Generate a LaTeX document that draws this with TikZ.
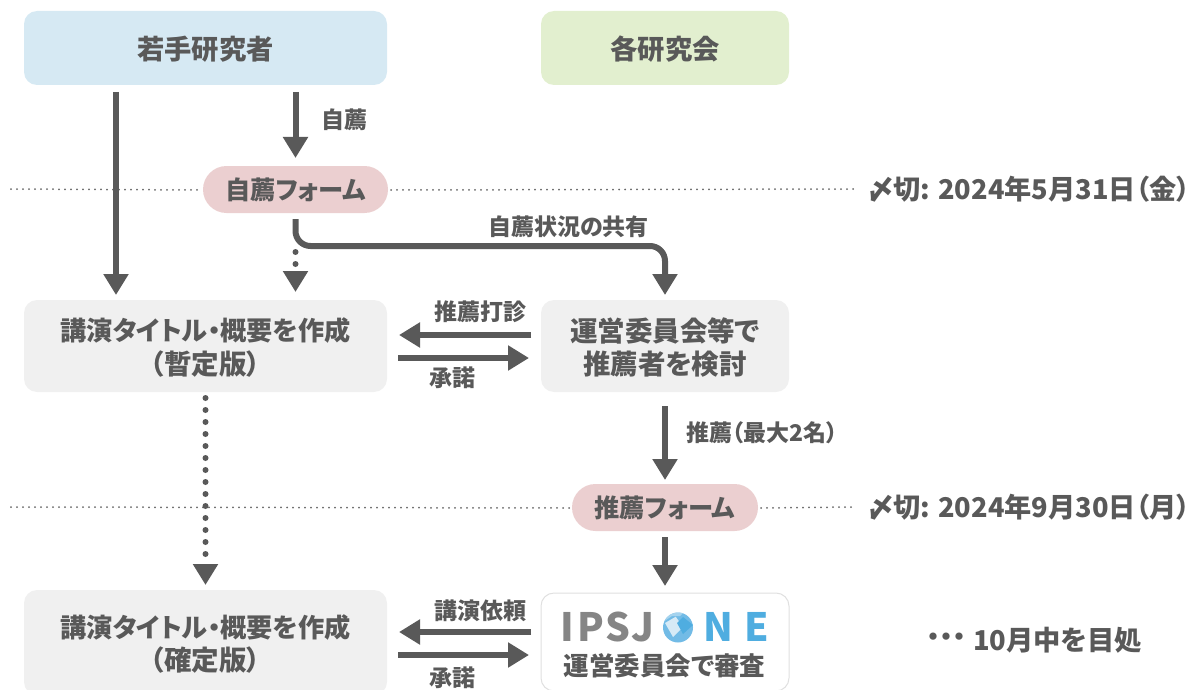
\documentclass[tikz,border=0pt]{standalone}
\usepackage{fontspec}
\usetikzlibrary{arrows.meta,shapes.misc}
\newfontfamily\jp[RawFeature=+palt]{Noto Sans CJK JP}
\newfontfamily\jpn{Noto Sans CJK JP}
\newcommand{\fsz}[1]{\fontsize{#1}{#1}\selectfont}
\definecolor{ink}{HTML}{595959}
\definecolor{dotc}{HTML}{666666}
\definecolor{blueb}{HTML}{D6E9F3}
\definecolor{greenb}{HTML}{E2EFCF}
\definecolor{pinkb}{HTML}{EBCFD0}
\definecolor{grayb}{HTML}{F0F0F0}
\definecolor{lgray}{HTML}{858585}
\definecolor{lblue}{HTML}{4FADE0}
\definecolor{mblue}{HTML}{72BBE6}
\definecolor{pblue}{HTML}{A5D3EE}
\definecolor{wblue}{HTML}{D6EAF6}
\tikzset{
  x=1pt,y=-1pt,
  every node/.style={inner sep=0pt,outer sep=0pt,text=ink,align=center},
  lab/.style={font=\jp\bfseries\fsz{23}},
  mid/.style={font=\jp\bfseries\fsz{27.5},text depth=0pt},
  big/.style={font=\jp\bfseries\fsz{27.3}},
  box/.style={rectangle,rounded corners=13pt,mid},
  pill/.style={rounded rectangle,fill=pinkb,font=\jp\bfseries\fsz{25.3},minimum height=47pt},
  arr/.style={draw=ink,line width=6pt,-{Triangle[width=24pt,length=21pt]}},
  dotarr/.style={arr,line cap=round,dash pattern=on 0pt off 12pt},
  hair/.style={draw=dotc,line width=2pt,line cap=round,dash pattern=on 0pt off 6pt},
  logo/.style={font=\jpn\bfseries\fsz{39}}
}
\newcommand{\ttl}{{\fsz{26.2}講演タイトル・概要を作成}}
\begin{document}
\begin{tikzpicture}
\useasboundingbox (0,0) rectangle (1196,690);
% boxes
\node[box,big,fill=blueb,minimum width=363pt,minimum height=74pt] (young) at (205.5,48) {若手研究者};
\node[box,big,fill=greenb,minimum width=248pt,minimum height=74pt] (soc) at (665,48) {各研究会};
\node[pill,minimum width=185pt] (selfform) at (295.5,189.5) {自薦フォーム};
\node[box,fill=grayb,minimum width=363pt,minimum height=92pt] (draft) at (205.5,346) {\ttl\\[6pt]（暫定版）};
\node[box,fill=grayb,minimum width=248pt,minimum height=92pt] (exam) at (665,346) {運営委員会等で\\[6pt]推薦者を検討};
\node[pill,minimum width=186pt] (recform) at (665,507.5) {推薦フォーム};
\node[box,fill=grayb,minimum width=363pt,minimum height=105pt] (final) at (205.5,642.5) {\ttl\\[6pt]（確定版）};
\node[box,fill=white,draw=black!12,line width=1pt,minimum width=248pt,minimum height=98pt] (ipsj) at (665,642) {};
% dotted date lines
\coordinate (d1l) at (11,189); \coordinate (d1r) at (853,189);
\coordinate (d2l) at (11,507); \coordinate (d2r) at (853,507);
\draw[hair] (d1l) -- ([xshift=-3pt,yshift=-0.5pt]selfform.west);
\draw[hair] ([xshift=3pt,yshift=-0.5pt]selfform.east) -- (d1r);
\draw[hair] (d2l) -- ([xshift=-3pt,yshift=-0.5pt]recform.west);
\draw[hair] ([xshift=3pt,yshift=-0.5pt]recform.east) -- (d2r);
% arrows
\draw[arr] ([xshift=-89.5pt,yshift=-7pt]young.south) -- ([xshift=-89.5pt,yshift=5pt]draft.north);
\draw[arr] ([xshift=90pt,yshift=-7pt]young.south) -- ([xshift=0pt,yshift=8pt]selfform.north);
\node[lab] (lself) at (344,120) {自薦};
\draw[arr,rounded corners=15pt] ([yshift=-6pt]selfform.south) |- (665,246) -- ([yshift=5pt]exam.north);
\node[lab] (lshare) at (568.5,227) {自薦状況の共有};
\draw[dotarr] ([yshift=-39pt]selfform.south) -- ([yshift=-79pt]selfform.south);
\draw[dotarr] ([yshift=-6pt]draft.south) -- ([yshift=5pt]final.north);
\draw[arr] ([xshift=-10pt,yshift=11pt]exam.west) -- ([xshift=12pt,yshift=11pt]draft.east);
\draw[arr] ([xshift=11pt,yshift=-12pt]draft.east) -- ([xshift=-12pt,yshift=-12pt]exam.west);
\node[lab] (lcons) at (480,312) {推薦打診};
\node[lab] (lok) at (452,378) {承諾};
\draw[arr] ([yshift=-14pt]exam.south) -- ([yshift=4pt]recform.north);
\node[lab] (lrec) at (762,433) {推薦（最大2名）};
\draw[arr] ([yshift=-6pt]recform.south) -- ([yshift=7pt]ipsj.north);
\draw[arr] ([xshift=-10pt,yshift=10pt]ipsj.west) -- ([xshift=12pt,yshift=10.5pt]final.east);
\draw[arr] ([xshift=11pt,yshift=-12.5pt]final.east) -- ([xshift=-12pt,yshift=-13pt]ipsj.west);
\node[lab] (lreq) at (480,611) {講演依頼};
\node[lab] (lok2) at (452,678) {承諾};
% logo
\node[logo,text=lgray,anchor=base] (li) at (567.5,641) {I};
\node[logo,text=lgray,anchor=base] (lp) at (590.5,641) {P};
\node[logo,text=lgray,anchor=base] (ls) at (618,641) {S};
\node[logo,text=lgray,anchor=base] (lj) at (643,641) {J};
\begin{scope}
\clip (678,627.5) circle (15pt);
\fill[mblue] (660,610) rectangle (696,645);
\fill[pblue] (660,610) -- (686,610) -- (680,616) -- (672,616) -- (663,622) -- (660,622) -- cycle;
\fill[wblue] (675.7,616.7) -- (683,627) -- (673,637) -- (665,623) -- cycle;
\fill[lblue] (683,617) -- (693,625) -- (683,634) -- (677,623) -- cycle;
\end{scope}
\node[logo,text=lblue,anchor=base] (ln) at (718,641) {N};
\node[logo,text=lblue,anchor=base] (le) at (756.5,641) {E};
\node[font=\jp\bfseries\fsz{25.5}] (lrev) at (664.5,666) {運営委員会で審査};
% deadlines
\node[font=\jp\bfseries\fsz{27.2},anchor=west] (dl1) at (868,189) {〆切: 2024年5月31日（金）};
\node[font=\jp\bfseries\fsz{27.2},anchor=west] (dl2) at (868,507) {〆切: 2024年9月30日（月）};
\node[font=\jp\bfseries\fsz{26},anchor=west] (dl0) at (927,640) {・・・};
\node[font=\jp\bfseries\fsz{27.3},anchor=west] (dl3) at (973,640) {10月中を目処};
\end{tikzpicture}
\end{document}
